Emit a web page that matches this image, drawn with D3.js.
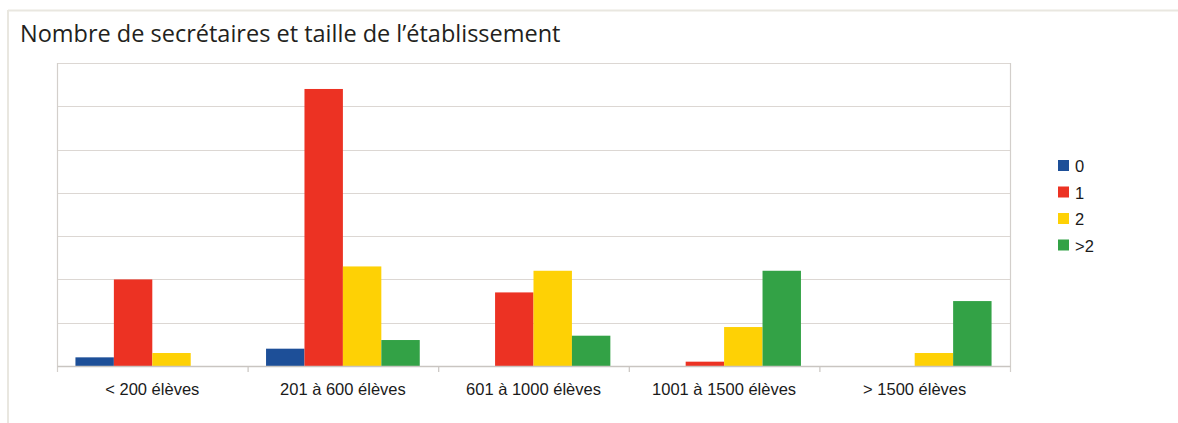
<!DOCTYPE html>
<html>
<head>
<meta charset="utf-8">
<script src="https://cdn.jsdelivr.net/npm/d3@7/dist/d3.min.js"></script>
<style>
  html, body { margin: 0; padding: 0; background: #fff; }
  svg { display: block; }
</style>
</head>
<body>
<svg id="chart" width="1178" height="423"></svg>
<script>
const title = "Nombre de secrétaires et taille de l\u2019établissement";
const categories = ["< 200 élèves", "201 à 600 élèves", "601 à 1000 élèves", "1001 à 1500 élèves", "> 1500 élèves"];
const seriesNames = ["0", "1", "2", ">2"];
const seriesColors = ["#1d4f98", "#ec3223", "#fed105", "#33a246"];
const values0 = [2, 4, 0, 0, 0];
const values1 = [20, 64, 17, 1, 0];
const values2 = [3, 23, 22, 9, 3];
const values3 = [0, 6, 7, 22, 15];
const yTicks = [0, 10, 20, 30, 40, 50, 60, 70];

(function () {
const seriesValues = [values0, values1, values2, values3];
const svg = d3.select("#chart");

// outer frame
svg.append("line").attr("x1", 8).attr("x2", 1178).attr("y1", 10.5).attr("y2", 10.5)
  .attr("stroke", "#e9e7e0").attr("stroke-width", 2);
svg.append("line").attr("x1", 8).attr("x2", 8).attr("y1", 10).attr("y2", 423)
  .attr("stroke", "#e9e7e0").attr("stroke-width", 2);

// title
svg.append("text").attr("x", 20).attr("y", 42)
  .attr("font-family", "'Open Sans', sans-serif").attr("font-size", 23.5)
  .attr("fill", "#231f20").text(title);

const pl = 57, pr = 1010, pt = 63, pb = 366;
const x0 = d3.scaleBand().domain(categories).range([pl, pr]).paddingInner(0).paddingOuter(0);
const x1 = d3.scaleBand().domain(seriesNames).range([0, x0.bandwidth()]).paddingInner(0).paddingOuter(0.48);
const y = d3.scaleLinear().domain([0, 70]).range([pb, pt]);

// gridlines
svg.append("g").selectAll("line").data(yTicks.filter(d => d > 0)).join("line")
  .attr("x1", pl).attr("x2", pr)
  .attr("y1", d => Math.round(y(d)) + 0.5).attr("y2", d => Math.round(y(d)) + 0.5)
  .attr("stroke", "#dcd7d3").attr("stroke-width", 1.2);

// plot sides
svg.append("line").attr("x1", pl + 0.5).attr("x2", pl + 0.5).attr("y1", pt).attr("y2", pb + 6)
  .attr("stroke", "#d3cfcb").attr("stroke-width", 1.2);
svg.append("line").attr("x1", pr + 0.5).attr("x2", pr + 0.5).attr("y1", pt).attr("y2", pb + 6)
  .attr("stroke", "#d3cfcb").attr("stroke-width", 1.2);

// bars
const data = [];
categories.forEach((c, i) => seriesNames.forEach((s, j) => data.push({c, s, j, v: seriesValues[j][i]})));
svg.append("g").selectAll("rect").data(data.filter(d => d.v > 0)).join("rect")
  .attr("x", d => x0(d.c) + x1(d.s))
  .attr("width", x1.bandwidth())
  .attr("y", d => y(d.v))
  .attr("height", d => y(0) - y(d.v))
  .attr("fill", d => seriesColors[d.j]);

// x axis
const xAxis = d3.axisBottom(x0).tickSize(0).tickPadding(0);
const gx = svg.append("g").attr("transform", `translate(0,${pb})`).call(xAxis);
gx.select(".domain").attr("stroke", "#c9c5c1").attr("stroke-width", 1.5);
gx.selectAll(".tick text")
  .attr("font-family", "'Liberation Sans', Arial, sans-serif").attr("font-size", 16.5)
  .attr("fill", "#1a1a1a").attr("dy", 0).attr("y", 29);
// category separators
svg.append("g").selectAll("line").data(categories.slice(1)).join("line")
  .attr("x1", d => x0(d) + 0.5).attr("x2", d => x0(d) + 0.5)
  .attr("y1", pb).attr("y2", pb + 6)
  .attr("stroke", "#c9c5c1").attr("stroke-width", 1.2);

// legend
const lg = svg.append("g").attr("transform", "translate(1058,160)");
const items = lg.selectAll("g").data(seriesNames).join("g")
  .attr("transform", (d, i) => `translate(0,${i * 26.5})`);
items.append("rect").attr("width", 11).attr("height", 11).attr("fill", (d, i) => seriesColors[i]);
items.append("text").attr("x", 17).attr("y", 12)
  .attr("font-family", "'Liberation Sans', Arial, sans-serif").attr("font-size", 16.5)
  .attr("fill", "#1a1a1a").text(d => d);
})();
</script>
</body>
</html>
